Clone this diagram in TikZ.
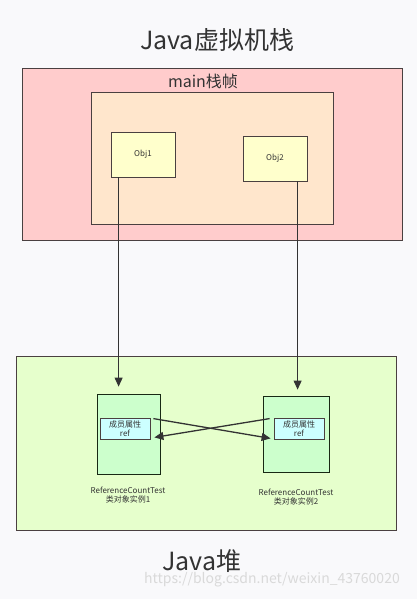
\documentclass[tikz,border=0pt]{standalone}
\usepackage{fontspec}
\setmainfont{Noto Sans CJK SC}
\usepackage{tikz}
\usetikzlibrary{positioning,arrows.meta,calc,backgrounds}

\definecolor{stackpink}{HTML}{FFCCCC}
\definecolor{framepeach}{HTML}{FFE6CC}
\definecolor{objyellow}{HTML}{FFFFCC}
\definecolor{heapgreen}{HTML}{E6FFCC}
\definecolor{instgreen}{HTML}{CCFFCC}
\definecolor{refcyan}{HTML}{CCFFFF}
\definecolor{edgegray}{HTML}{4A4040}
\definecolor{txtgray}{HTML}{333333}
\definecolor{pagebg}{HTML}{F9F9FB}

\begin{document}
\begin{tikzpicture}[
    x=1pt, y=-1pt,
    font=\fontsize{8}{9}\selectfont, text=txtgray,
    region/.style={rectangle, draw=edgegray, thick, inner sep=0pt},
    obj/.style={rectangle, draw=edgegray, thick, fill=objyellow,
                minimum width=64pt, minimum height=45pt, inner sep=0pt},
    inst/.style={rectangle, draw=edgegray!80!green!40!black, thick, fill=instgreen,
                 inner sep=0pt},
    refbox/.style={rectangle, draw=edgegray, thick, fill=refcyan,
                   minimum width=50pt, minimum height=21pt, inner sep=0pt,
                   align=center, font=\fontsize{8}{9}\selectfont},
    caption/.style={align=center, font=\fontsize{8}{9.5}\selectfont},
    title/.style={font=\fontsize{25}{28}\selectfont, text=txtgray},
    link/.style={-{Triangle[length=9pt,width=8pt]}, line width=0.9pt, txtgray},
    cross/.style={link, line width=1.3pt}
]

% page
\fill[pagebg] (0,0) rectangle (417,599);
\useasboundingbox (0,0) rectangle (417,599);

% Java stack
\node[title] (T1) at (217,40) {Java虚拟机栈};
\node[region, fill=stackpink, minimum width=380pt, minimum height=172pt] (S) at (212,154) {};
\node[font=\fontsize{16}{18}\selectfont] (SL) at (203,81) {main栈帧};
\node[region, fill=framepeach, minimum width=242pt, minimum height=132pt] (F) at (212,158) {};
\node[obj] (O1) at (143,154.5) {Obj1};
\node[obj] (O2) at (275,158.5) {Obj2};

% Java heap
\node[region, fill=heapgreen, minimum width=380pt, minimum height=174pt] (H) at (206,443) {};
\node[inst, minimum width=63pt, minimum height=80pt] (I1) at (128.5,434) {};
\node[inst, minimum width=66pt, minimum height=76pt] (I2) at (296,434) {};
\node[refbox] (R1) at (125,428.5) {成员属性\\ref};
\node[refbox] (R2) at (299,428.5) {成员属性\\ref};
\node[caption] (C1) at (128,495) {ReferenceCountTest\\类对象实例1};
\node[caption] (C2) at (296,497) {ReferenceCountTest\\类对象实例2};
\node[title] (T2) at (202,561) {Java堆};
\node[font=\fontsize{14}{16}\selectfont, text=gray!30] (W) at (272,580) {https://blog.csdn.net/weixin\_43760020};

% stack -> heap
\coordinate (a1) at ($(O1.south west)+(8,0)$);
\coordinate (a2) at ($(O2.south west)+(55,0)$);
\draw[link, shorten >=7pt] (a1) -- (a1 |- I1.north);
\draw[link, shorten >=6pt] (a2) -- (a2 |- I2.north);

% cyclic refs
\draw[cross] ($(R1.north east)+(3,1)$) -- ($(R2.south west)+(-3,-1)$);
\draw[cross] ($(R2.north west)+(-4,1)$) -- ($(R1.south east)+(4,-2)$);

\end{tikzpicture}
\end{document}
